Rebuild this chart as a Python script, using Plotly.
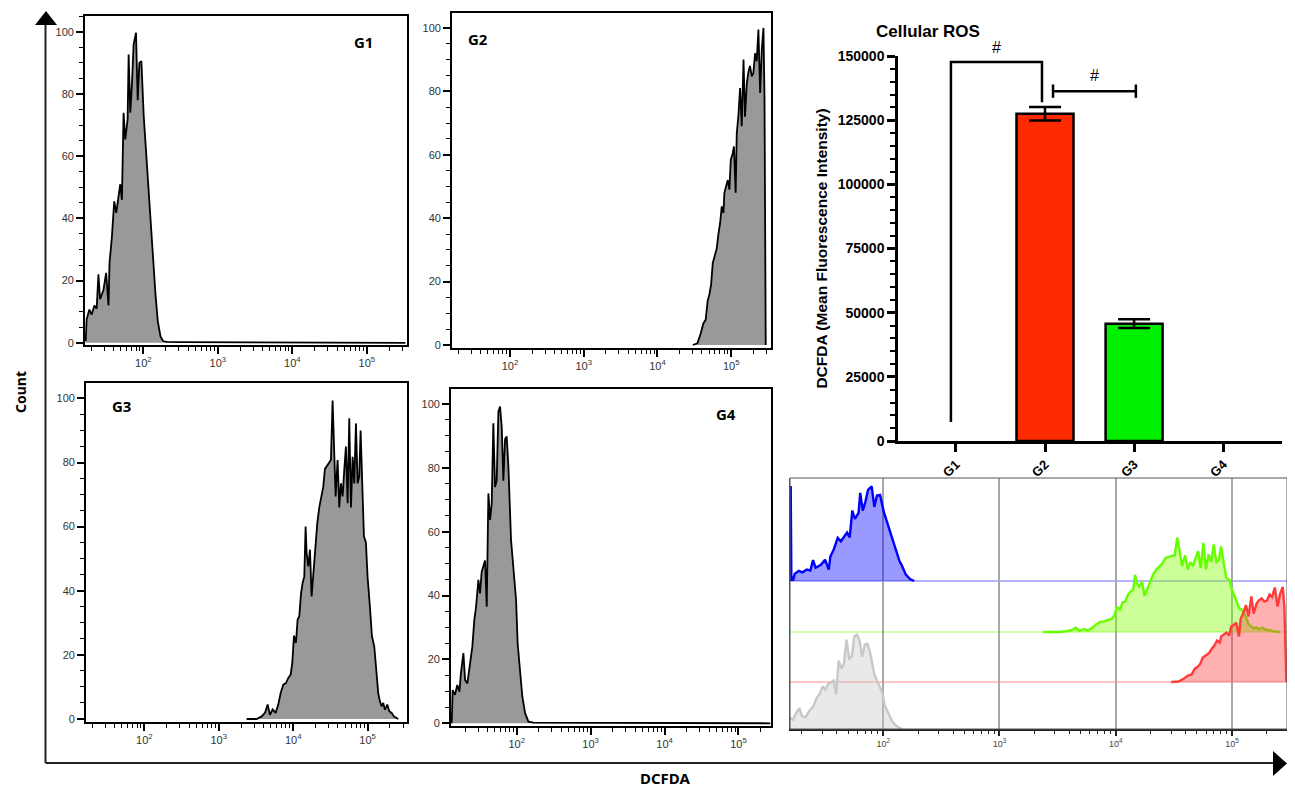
import plotly.graph_objects as go

# the page body keeps an 8 px margin, so the figure is made that much smaller
OFF = 8
W, H = 1295 - 2 * OFF, 798 - 2 * OFF

# ---- histogram data (DCFDA intensity, % of max count)
g1_x = [16.8, 17.3, 18.8, 20.2, 22.0, 23.6, 24.9, 26.2, 29.1, 31.6, 34.0, 35.1, 37.7, 40.6,
        43.2, 46.4, 48.9, 51.5, 54.2, 57.1, 61.4, 63.4, 66.7, 70.3, 74.0, 79.6, 83.8, 88.3,
        94.0, 101, 110, 118, 128, 138, 145, 156, 170, 185, 209, 316, 760, 3.3e5]
g1_count = [0.5, 7.5, 10.7, 9.1, 12.0, 11.0, 22.0, 14.0, 17.0, 22.5, 12.0, 25.7, 33.8, 45.5,
            41.8, 47.7, 51.0, 46.0, 74.0, 65.4, 71.8, 92.7, 74.0, 83.6, 96.0, 99.7, 78.0, 90.0,
            90.6, 73.0, 59.0, 46.0, 35.0, 21.0, 16.0, 7.0, 2.0, 0.5, 0.3, 0.2, 0.2, 0]

g2_x = [30100, 34800, 38700, 41900, 45100, 48000, 50700, 53400, 56200, 59200, 63700, 67100,
        70700, 74500, 78500, 80900, 85300, 89800, 94600, 98700, 105000, 109000, 115000,
        119000, 125000, 132000, 139000, 147000, 154000, 163000, 171000, 180000, 190000,
        200000, 211000, 222000, 234000, 247000, 260000, 274000, 283000, 294000]
g2_count = [0, 0.5, 3.7, 6.8, 8.0, 14.0, 16.0, 19.0, 25.8, 28.0, 30.5, 35.0, 38.4, 43.7, 41.6,
            48.0, 50.5, 52.0, 49.0, 58.4, 60.5, 62.6, 48.0, 66.8, 72.0, 81.0, 69.0, 90.0, 72.0,
            82.6, 86.0, 88.0, 84.7, 85.8, 92.0, 89.5, 99.5, 79.5, 93.0, 100, 78.0, 0]

g3_x = [2370, 3230, 3770, 4180, 4540, 4880, 5300, 5810, 6310, 6780, 7370, 8000, 8600, 9250,
        9730, 10250, 10900, 11480, 12090, 12740, 13400, 14120, 14700, 15170, 15970, 16820,
        17700, 18640, 20030, 21090, 22440, 23620, 25400, 26740, 28760, 30560, 32180, 33890,
        35320, 37210, 39550, 41680, 43860, 46220, 48640, 51190, 53950, 56770, 59830, 62950,
        66250, 69820, 73470, 77310, 80580, 84920, 89360, 95060, 100000, 107600, 114500,
        123100, 132200, 139300, 146600, 154500, 162600, 171100, 184000, 195800, 210500,
        226100, 258400]
g3_count = [0, 0, 0.8, 1.9, 4.5, 1.3, 3.0, 1.9, 4.5, 8.0, 10.7, 11.2, 12.8, 13.8, 17.4, 26.0,
            23.7, 31.0, 32.0, 39.0, 42.4, 44.4, 60.0, 51.7, 47.6, 52.8, 38.2, 45.5, 53.8, 61.0,
            66.0, 68.8, 72.5, 78.0, 79.0, 80.0, 80.8, 99.3, 85.0, 69.4, 80.8, 66.0, 73.5, 69.4,
            77.7, 85.0, 67.3, 93.8, 66.0, 81.8, 73.5, 92.2, 73.5, 75.6, 90.0, 74.6, 57.0, 55.0,
            44.4, 35.0, 25.8, 22.6, 15.4, 8.0, 5.5, 3.9, 5.0, 2.9, 4.5, 2.4, 1.9, 0.8, 0]

g4_x = [13.2, 13.6, 14.6, 15.7, 16.8, 17.6, 19.0, 20.0, 21.5, 23.4, 25.1, 26.7, 28.2, 30.3,
        31.9, 33.6, 35.4, 37.3, 39.3, 41.4, 43.6, 45.9, 48.3, 50.9, 53.6, 56.5, 59.5, 62.7,
        66.0, 69.5, 73.2, 77.2, 83.8, 90.1, 98.0, 103, 111, 119, 130, 144, 168, 242, 585, 2.7e5]
g4_count = [0, 10.4, 8.9, 12.0, 9.9, 15.7, 22.0, 13.6, 12.5, 19.8, 24.0, 32.4, 36.5, 44.9,
            40.7, 47.5, 49.0, 51.0, 36.5, 72.0, 63.7, 68.9, 94.0, 74.0, 76.0, 97.6, 99.2, 92.9,
            76.0, 89.0, 89.8, 80.4, 57.4, 49.0, 38.6, 25.0, 16.7, 8.4, 3.1, 0.5, 0.2, 0.2, 0.2, 0]

# off-scale events piled in the first bin of the G1 overlay
g1_offscale_x = [16.0, 16.2]
g1_offscale_count = [100, 5]

# ---- bar chart (mean fluorescence intensity)
groups = ["G1", "G2", "G3", "G4"]
mfi_mean = [0, 127500, 45700, 0]
mfi_sem = [0, 2600, 1700, 0]

decade_vals = [100, 1000, 10000, 100000]
decade_text = ["10<sup>2</sup>", "10<sup>3</sup>", "10<sup>4</sup>", "10<sup>5</sup>"]
minor_vals = [m * d for d in [10, 100, 1000, 10000, 100000] for m in range(2, 10)]


def xd(a, b):
    return [max(0, (a - OFF) / W), min(1, (b - OFF) / W)]


def yd(top, bot):
    return [max(0, 1 - (bot - OFF) / H), min(1, 1 - (top - OFF) / H)]


def pp(x, y):
    # screen pixel -> paper coords
    return (x - OFF) / W, 1 - (y - OFF) / H


def label(text, x, y, font, angle=0, yanchor="middle"):
    px_, py_ = pp(x, y)
    fig.add_annotation(text=text, x=px_, y=py_, xref="paper", yref="paper", showarrow=False,
                       textangle=angle, xanchor="center", yanchor=yanchor, font=font)


fig = go.Figure()

tick_font = dict(family="Liberation Sans, Arial", size=11, color="#333")
label_font = dict(family="Noto Sans", size=15, color="black", weight="bold")

# panel: (x data, counts, x domain px, y domain px, log x range, y range, label, label pos px)
panels = [
    (g1_x, g1_count, (85, 407), (16, 345), [1.216, 5.54], [-0.7, 105.1], "G1", (363, 42)),
    (g2_x, g2_count, (452, 771), (13, 348), [1.213, 5.54], [-0.95, 104.7], "G2", (478, 39)),
    (g3_x, g3_count, (86, 407), (383, 722), [1.216, 5.53], [-0.94, 104.8], "G3", (121, 406)),
    (g4_x, g4_count, (451, 771), (389, 726), [1.111, 5.44], [-0.85, 104.7], "G4", (726, 414)),
]

for i, (xs, ys, xdom, ydom, xr, yr, lab, lpos) in enumerate(panels, start=1):
    sfx = "" if i == 1 else str(i)
    fig.add_trace(go.Scatter(
        x=xs, y=ys, mode="lines", line=dict(color="black", width=1.8),
        fill="tozeroy", fillcolor="#999999", xaxis="x" + sfx, yaxis="y" + sfx,
        showlegend=False, hoverinfo="skip"))
    fig.layout["xaxis" + sfx] = dict(
        type="log", domain=xd(*xdom), range=xr, anchor="y" + sfx, automargin=False,
        tickvals=decade_vals, ticktext=decade_text, tickfont=tick_font,
        ticks="outside", ticklen=7, tickwidth=1.5, tickcolor="black",
        minor=dict(tickvals=minor_vals, ticks="outside", ticklen=4, tickwidth=1, tickcolor="black"),
        showline=True, linecolor="black", linewidth=1.8, mirror=True,
        showgrid=False, zeroline=False)
    fig.layout["yaxis" + sfx] = dict(
        domain=yd(*ydom), range=yr, anchor="x" + sfx, automargin=False,
        tickvals=[0, 20, 40, 60, 80, 100], tickfont=tick_font,
        ticks="outside", ticklen=7, tickwidth=1.5, tickcolor="black",
        minor=dict(dtick=5, ticks="outside", ticklen=4, tickwidth=1, tickcolor="black"),
        showline=True, linecolor="black", linewidth=1.8, mirror=True,
        showgrid=False, zeroline=False)
    label(lab, lpos[0], lpos[1], label_font)

# ---- bar chart
bar_font = dict(family="Liberation Sans, Arial", size=14, color="black", weight="bold")
fig.add_trace(go.Bar(
    x=list(range(len(groups))), y=mfi_mean, width=0.64,
    marker=dict(color=["#ff2a00", "#ff2a00", "#00f000", "#00f000"],
                line=dict(color="black", width=[2.5 if v > 0 else 0 for v in mfi_mean])),
    xaxis="x5", yaxis="y5", showlegend=False, hoverinfo="skip"))
# error bars only where there is a bar
err_idx = [i for i, s in enumerate(mfi_sem) if s > 0]
fig.add_trace(go.Scatter(
    x=err_idx, y=[mfi_mean[i] for i in err_idx], mode="markers",
    marker=dict(size=1, opacity=0),
    error_y=dict(type="data", array=[mfi_sem[i] for i in err_idx],
                 color="black", thickness=2.5, width=16),
    xaxis="x5", yaxis="y5", showlegend=False, hoverinfo="skip"))
fig.layout.xaxis5 = dict(
    domain=xd(898, 1282), range=[-0.65, 3.66], anchor="y5", automargin=False,
    tickvals=list(range(len(groups))), ticktext=groups, tickangle=-45,
    tickfont=dict(family="Liberation Sans, Arial", size=13, color="black", weight="bold"),
    ticks="outside", ticklen=8, tickwidth=2.5, tickcolor="black",
    showline=True, linecolor="black", linewidth=2.5, showgrid=False, zeroline=False)
fig.layout.yaxis5 = dict(
    domain=yd(56, 441), range=[0, 150000], anchor="x5", automargin=False,
    tickvals=[0, 25000, 50000, 75000, 100000, 125000, 150000], tickformat="d", tickfont=bar_font,
    ticks="outside", ticklen=8, tickwidth=2.5, tickcolor="black",
    minor=dict(dtick=5000, ticks="outside", ticklen=5, tickwidth=2, tickcolor="black"),
    showline=True, linecolor="black", linewidth=2.5, showgrid=False, zeroline=False,
    title=dict(text="DCFDA (Mean Fluorescence Intensity)", standoff=7,
               font=dict(family="Liberation Sans, Arial", size=15.5, color="black",
                         weight="bold")))

label("Cellular ROS", 928, 31,
      dict(family="Liberation Sans, Arial", size=17, color="black", weight="bold"))

# significance brackets
fig.add_shape(type="path", xref="x5", yref="y5",
              path="M -0.056,7400 L -0.056,147700 L 0.966,147700 L 0.966,132000",
              line=dict(color="black", width=2.5))
fig.add_shape(type="line", xref="x5", yref="y5", x0=1.09, x1=2.02, y0=136300, y1=136300,
              line=dict(color="black", width=2.5))
for xc in [1.09, 2.02]:
    fig.add_shape(type="line", xref="x5", yref="y5", x0=xc, x1=xc, y0=133700, y1=138900,
                  line=dict(color="black", width=2.5))
for px_, py_ in [(996, 47), (1094, 76)]:
    label("#", px_, py_, dict(family="Liberation Sans, Arial", size=16, color="black"))

# ---- overlay histogram (offset stack)
ov_scale = 0.95
ov = [
    # x, counts, baseline offset, line colour, fill colour
    (g1_offscale_x + g1_x, g1_offscale_count + g1_count, 148, "#0000ff", "rgba(0,0,255,0.4)"),
    (g3_x, g3_count, 97, "#66ff00", "rgba(130,255,0,0.4)"),
    (g2_x, g2_count, 47, "#ff3b3b", "rgba(255,60,60,0.4)"),
    (g4_x, g4_count, 0, "#c8c8c8", "rgba(200,200,200,0.4)"),
]
for xs, ys, off, lc, fc in ov:
    # drop the empty tail so only the baseline rule shows there
    keep = len(ys)
    while keep > 2 and ys[keep - 2] < 0.6:
        keep -= 1
    xs, ys = xs[:keep], ys[:keep]
    if off > 0:
        fig.add_shape(type="line", xref="x6 domain", yref="y6", x0=0, x1=1, y0=off, y1=off,
                      line=dict(color=lc, width=1), opacity=0.6, layer="below")
    fig.add_trace(go.Scatter(
        x=[xs[0]] + xs + [xs[-1]], y=[off] + [off + v * ov_scale for v in ys] + [off],
        mode="lines", line=dict(color=lc, width=2.4), fill="toself", fillcolor=fc,
        xaxis="x6", yaxis="y6", showlegend=False, hoverinfo="skip"))

fig.layout.xaxis6 = dict(
    type="log", domain=xd(790, 1293), range=[1.198, 5.474], anchor="y6", automargin=False,
    tickvals=decade_vals, ticktext=decade_text,
    tickfont=dict(family="Liberation Sans, Arial", size=9, color="#444"),
    ticks="outside", ticklen=5, tickwidth=1.5, tickcolor="#222",
    minor=dict(tickvals=minor_vals, ticks="outside", ticklen=3, tickwidth=1, tickcolor="#222"),
    showgrid=True, gridcolor="#a8a8a8", gridwidth=1.5,
    showline=True, linecolor="#222", linewidth=1.5, zeroline=False)
fig.layout.yaxis6 = dict(
    domain=yd(478, 729), range=[0, 251], anchor="x6", automargin=False,
    showticklabels=False, ticks="",
    showgrid=False, zeroline=False, showline=True, linecolor="#555", linewidth=1)
fig.add_shape(type="rect", xref="x6 domain", yref="y6 domain", x0=0, x1=1, y0=0, y1=1,
              line=dict(color="#555", width=1))

# ---- big Count / DCFDA arrows
ax_line = dict(color="#222", width=2)
x0, y0 = pp(45.5, 763)
x1, y1 = pp(45.5, 24)
fig.add_shape(type="line", xref="paper", yref="paper", x0=x0, y0=y0, x1=x1, y1=y1, line=ax_line)
x2, y2 = pp(1276, 763)
fig.add_shape(type="line", xref="paper", yref="paper", x0=x0, y0=y0, x1=x2, y1=y2, line=ax_line)
a, b, c = pp(35, 25), pp(57, 25), pp(46, 11)
fig.add_shape(type="path", xref="paper", yref="paper", fillcolor="black", line=dict(width=0),
              path=f"M {a[0]},{a[1]} L {b[0]},{b[1]} L {c[0]},{c[1]} Z")
a, b, c = pp(1273, 751), pp(1273, 776), pp(1287, 763.5)
fig.add_shape(type="path", xref="paper", yref="paper", fillcolor="black", line=dict(width=0),
              path=f"M {a[0]},{a[1]} L {b[0]},{b[1]} L {c[0]},{c[1]} Z")

label("Count", 20, 392, dict(family="Noto Sans", size=14, color="black", weight="bold"),
      angle=-90)
label("DCFDA", 665, 790, dict(family="Noto Sans", size=15, color="black", weight="bold"),
      yanchor="bottom")

fig.update_layout(width=W, height=H, margin=dict(l=0, r=0, t=0, b=0),
                  plot_bgcolor="white", paper_bgcolor="white")

fig.write_html("out.html")
